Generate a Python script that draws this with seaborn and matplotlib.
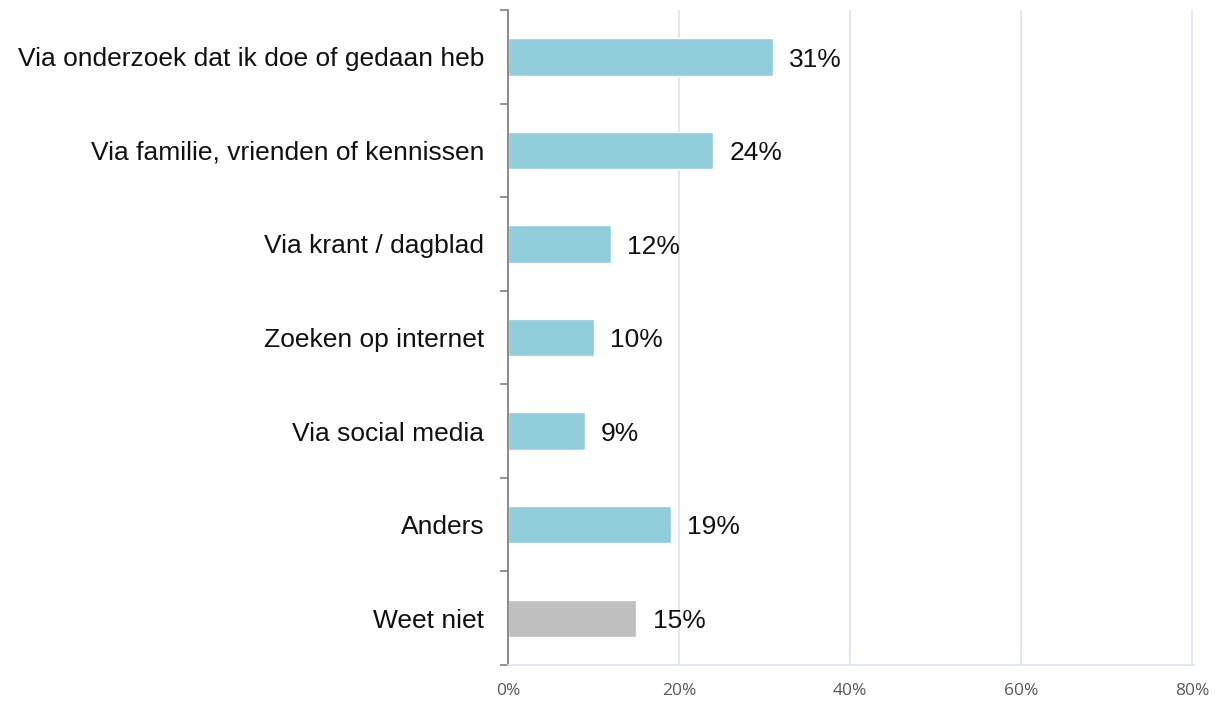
import numpy as np
import pandas as pd
import matplotlib
matplotlib.use("Agg")
import matplotlib.pyplot as plt
import seaborn as sns

categories = ['Via onderzoek dat ik doe of gedaan heb', 'Via familie, vrienden of kennissen',
              'Via krant / dagblad', 'Zoeken op internet', 'Via social media', 'Anders', 'Weet niet']
values = [31, 24, 12, 10, 9, 19, 15]
bar_colors = ['#92CDDC'] * 6 + ['#BFBFBF']
x_ticks = [0, 20, 40, 60, 80]

df = pd.DataFrame({'cat': categories, 'val': values})

sns.set_theme(style="white")
plt.rcParams['font.family'] = ['Liberation Sans', 'DejaVu Sans']

fig = plt.figure(figsize=(12.17, 7.05), dpi=100)
ax = fig.add_axes([0.4174, 0.0567, 0.5635, 0.9291])

sns.barplot(data=df, x='val', y='cat', hue='cat', palette=bar_colors, legend=False,
            width=0.4, orient='h', ax=ax, saturation=1)

ax.set_xlim(0, 80.15)
ax.set_ylim(len(categories) - 0.5, -0.5)
ax.set_xticks(x_ticks)
ax.set_xticklabels([f'{t}%' for t in x_ticks], fontfamily='Open Sans', fontsize=12.5, color='#595959')
ax.xaxis.grid(True, color='#DCE6F2', linewidth=1.3)
ax.set_axisbelow(True)
ax.tick_params(axis='x', length=0, pad=13)

ax.set_yticks(range(len(categories)))
ax.set_yticklabels(categories, fontsize=19, color='#111111')
ax.set_yticks(np.arange(-0.5, len(categories), 1), minor=True)
ax.tick_params(axis='y', which='major', length=0, pad=17)
ax.tick_params(axis='y', which='minor', length=6, width=1.2, color='#808080', direction='out', left=True)
ax.set_xlabel('')
ax.set_ylabel('')

for s in ['top', 'right']:
    ax.spines[s].set_visible(False)
ax.spines['left'].set_color('#808080')
ax.spines['left'].set_linewidth(1.3)
ax.spines['bottom'].set_color('#DCE6F2')
ax.spines['bottom'].set_linewidth(1.3)

for i, v in enumerate(values):
    ax.text(v + 1.9, i + 0.03, f'{v}%', va='center', ha='left', fontsize=19, color='#111111')

fig.savefig('out.png', dpi=100, facecolor='white')
